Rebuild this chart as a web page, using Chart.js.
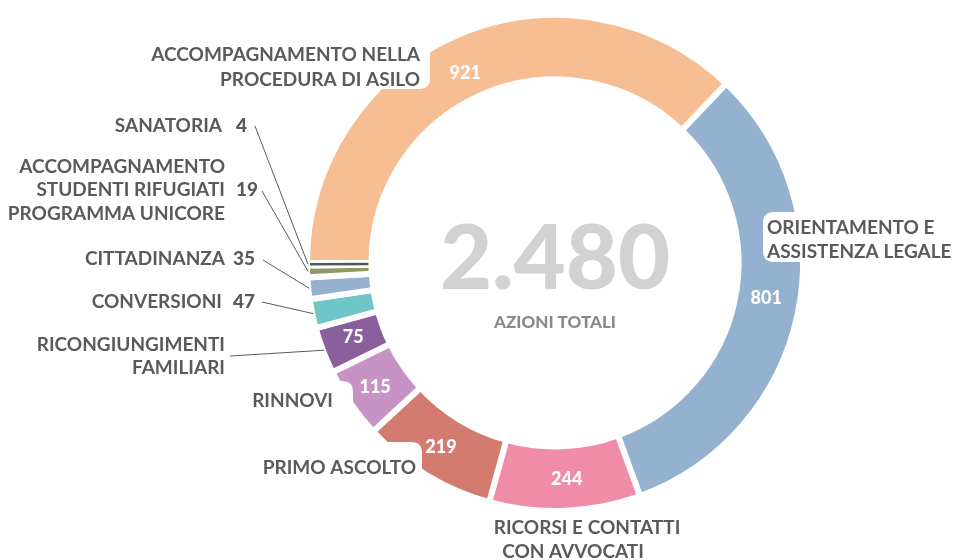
<!DOCTYPE html>
<html>
<head>
<meta charset="utf-8">
<script src="https://cdn.jsdelivr.net/npm/chart.js@4/dist/chart.umd.min.js"></script>
<style>
  html, body { margin: 0; padding: 0; background: #ffffff; }
  #wrap { width: 961px; height: 560px; position: relative; }
</style>
</head>
<body>
<div id="wrap"><canvas id="c" width="961" height="560"></canvas></div>
<script>
// ---- data ----
const categories = [
  "ACCOMPAGNAMENTO NELLA PROCEDURA DI ASILO",
  "ORIENTAMENTO E ASSISTENZA LEGALE",
  "RICORSI E CONTATTI CON AVVOCATI",
  "PRIMO ASCOLTO",
  "RINNOVI",
  "RICONGIUNGIMENTI FAMILIARI",
  "CONVERSIONI",
  "CITTADINANZA",
  "ACCOMPAGNAMENTO STUDENTI RIFUGIATI PROGRAMMA UNICORE",
  "SANATORIA"
];
const labelLines = [
  ["ACCOMPAGNAMENTO NELLA", "PROCEDURA DI ASILO"],
  ["ORIENTAMENTO E", "ASSISTENZA LEGALE"],
  ["RICORSI E CONTATTI", "CON AVVOCATI"],
  ["PRIMO ASCOLTO"],
  ["RINNOVI"],
  ["RICONGIUNGIMENTI", "FAMILIARI"],
  ["CONVERSIONI"],
  ["CITTADINANZA"],
  ["ACCOMPAGNAMENTO", "STUDENTI RIFUGIATI", "PROGRAMMA UNICORE"],
  ["SANATORIA"]
];
const values = [921, 801, 244, 219, 115, 75, 47, 35, 19, 4];
const totalLabel = "2.480";
const totalCaption = "AZIONI TOTALI";
const colors = ["#F7BE94", "#94B2D0", "#F08CA8", "#D47B70", "#C792C4",
                "#8A5F9E", "#6EC6C6", "#94B2D0", "#8E9A66", "#555555"];

// ---- label layout (positions / styles) ----
const FONT = "Lato, 'Open Sans', sans-serif";
const TEXT_COLOR = "#5a5a5a";
const layoutSpec = [
  { align: "right", xs: [420, 420], ys: [55, 80], box: [150, 38, 280, 51], vOff: [-5, 9] },
  { align: "left", xs: [767, 767], ys: [228, 252], box: [763, 212, 197, 50], vOff: [0, -9] },
  { align: "center", xs: [587, 573], ys: [528, 552], box: null, vOff: [3, 1] },
  { align: "right", xs: [416], ys: [468], box: [262, 442, 160, 40], vOff: [-2, 0] },
  { align: "right", xs: [333], ys: [401], box: [250, 381, 103, 36], vOff: [-2, 2] },
  { align: "right", xs: [225, 225], ys: [345, 368], leader: [230, 356], vOff: [0, -2] },
  { align: "right", xs: [222], ys: [302], value: 233, leader: [262, 302] },
  { align: "right", xs: [225], ys: [259], value: 233, leader: [263, 260] },
  { align: "right", xs: [225, 225, 225], ys: [167, 190, 214], value: 236, valueY: 190, leader: [262, 191] },
  { align: "right", xs: [222], ys: [126], value: 236, leader: [255, 126] }
];

function roundRect(ctx, x, y, w, h, r) {
  ctx.beginPath();
  ctx.moveTo(x + r, y);
  ctx.lineTo(x + w - r, y);
  ctx.quadraticCurveTo(x + w, y, x + w, y + r);
  ctx.lineTo(x + w, y + h - r);
  ctx.quadraticCurveTo(x + w, y + h, x + w - r, y + h);
  ctx.lineTo(x + r, y + h);
  ctx.quadraticCurveTo(x, y + h, x, y + h - r);
  ctx.lineTo(x, y + r);
  ctx.quadraticCurveTo(x, y, x + r, y);
  ctx.closePath();
}

const GAP = 6;

const labelPlugin = {
  id: "customLabels",
  afterDatasetsDraw(chart) {
    const ctx = chart.ctx;
    const meta = chart.getDatasetMeta(0);
    const ds = chart.data.datasets[0].data;
    const bg = chart.data.datasets[0].backgroundColor;
    ctx.save();

    // slivers too thin to survive the white gap: draw as a thin radial bar
    meta.data.forEach((arc, i) => {
      const len = (arc.endAngle - arc.startAngle) * arc.outerRadius;
      if (len < GAP + 1) {
        const mid = (arc.startAngle + arc.endAngle) / 2;
        const r0 = arc.innerRadius + GAP / 2;
        const r1 = arc.outerRadius - GAP / 2;
        ctx.strokeStyle = bg[i];
        ctx.lineWidth = 2.5;
        ctx.beginPath();
        ctx.moveTo(arc.x + Math.cos(mid) * r0, arc.y + Math.sin(mid) * r0);
        ctx.lineTo(arc.x + Math.cos(mid) * r1, arc.y + Math.sin(mid) * r1);
        ctx.stroke();
      }
    });

    // center text
    const c = meta.data[0];
    ctx.textAlign = "center";
    ctx.textBaseline = "middle";
    ctx.fillStyle = "#d2d2d2";
    ctx.font = "900 90px " + FONT;
    ctx.fillText(totalLabel, c.x, c.y - 3);
    ctx.fillStyle = "#8a8a8a";
    ctx.font = "900 17px " + FONT;
    ctx.fillText(totalCaption, c.x, c.y + 60);

    // inner value labels
    meta.data.forEach((arc, i) => {
      if (ds[i] >= 75) {
        const p = arc.tooltipPosition();
        const off = (layoutSpec[i].vOff) || [0, 0];
        ctx.fillStyle = "#ffffff";
        ctx.font = "900 18px " + FONT;
        ctx.textAlign = "center";
        ctx.textBaseline = "middle";
        ctx.fillText(String(ds[i]), p.x + off[0], p.y + off[1]);
      }
    });

    // outer labels
    layoutSpec.forEach((spec, i) => {
      const arc = meta.data[i];
      if (spec.box) {
        ctx.fillStyle = "#ffffff";
        roundRect(ctx, spec.box[0], spec.box[1], spec.box[2], spec.box[3], 11);
        ctx.fill();
      }
      if (spec.leader) {
        const mid = (arc.startAngle + arc.endAngle) / 2;
        const r = arc.outerRadius - GAP / 2 + 2;
        const ex = arc.x + Math.cos(mid) * r;
        const ey = arc.y + Math.sin(mid) * r;
        ctx.strokeStyle = "#5a5a5a";
        ctx.lineWidth = 1;
        ctx.beginPath();
        ctx.moveTo(spec.leader[0], spec.leader[1]);
        ctx.lineTo(ex, ey);
        ctx.stroke();
      }
      ctx.fillStyle = TEXT_COLOR;
      ctx.font = "bold 19px " + FONT;
      ctx.textAlign = spec.align;
      ctx.textBaseline = "middle";
      labelLines[i].forEach((line, k) => {
        ctx.fillText(line, spec.xs[k], spec.ys[k]);
      });
      if (spec.value !== undefined) {
        ctx.font = "900 19px " + FONT;
        ctx.textAlign = "left";
        ctx.fillText(String(ds[i]), spec.value, spec.valueY !== undefined ? spec.valueY : spec.ys[0]);
      }
    });
    ctx.restore();
  }
};

new Chart(document.getElementById("c"), {
  type: "doughnut",
  data: {
    labels: categories,
    datasets: [{
      data: values,
      backgroundColor: colors,
      borderColor: "#ffffff",
      borderWidth: GAP,
      borderJoinStyle: "miter",
      borderAlign: "center",
      hoverOffset: 0
    }]
  },
  options: {
    responsive: false,
    animation: false,
    rotation: -90,
    cutout: "74%",
    layout: { padding: { left: 304, right: 155, top: 12, bottom: 46 } },
    plugins: {
      legend: { display: false },
      tooltip: { enabled: false }
    }
  },
  plugins: [labelPlugin]
});
</script>
</body>
</html>
